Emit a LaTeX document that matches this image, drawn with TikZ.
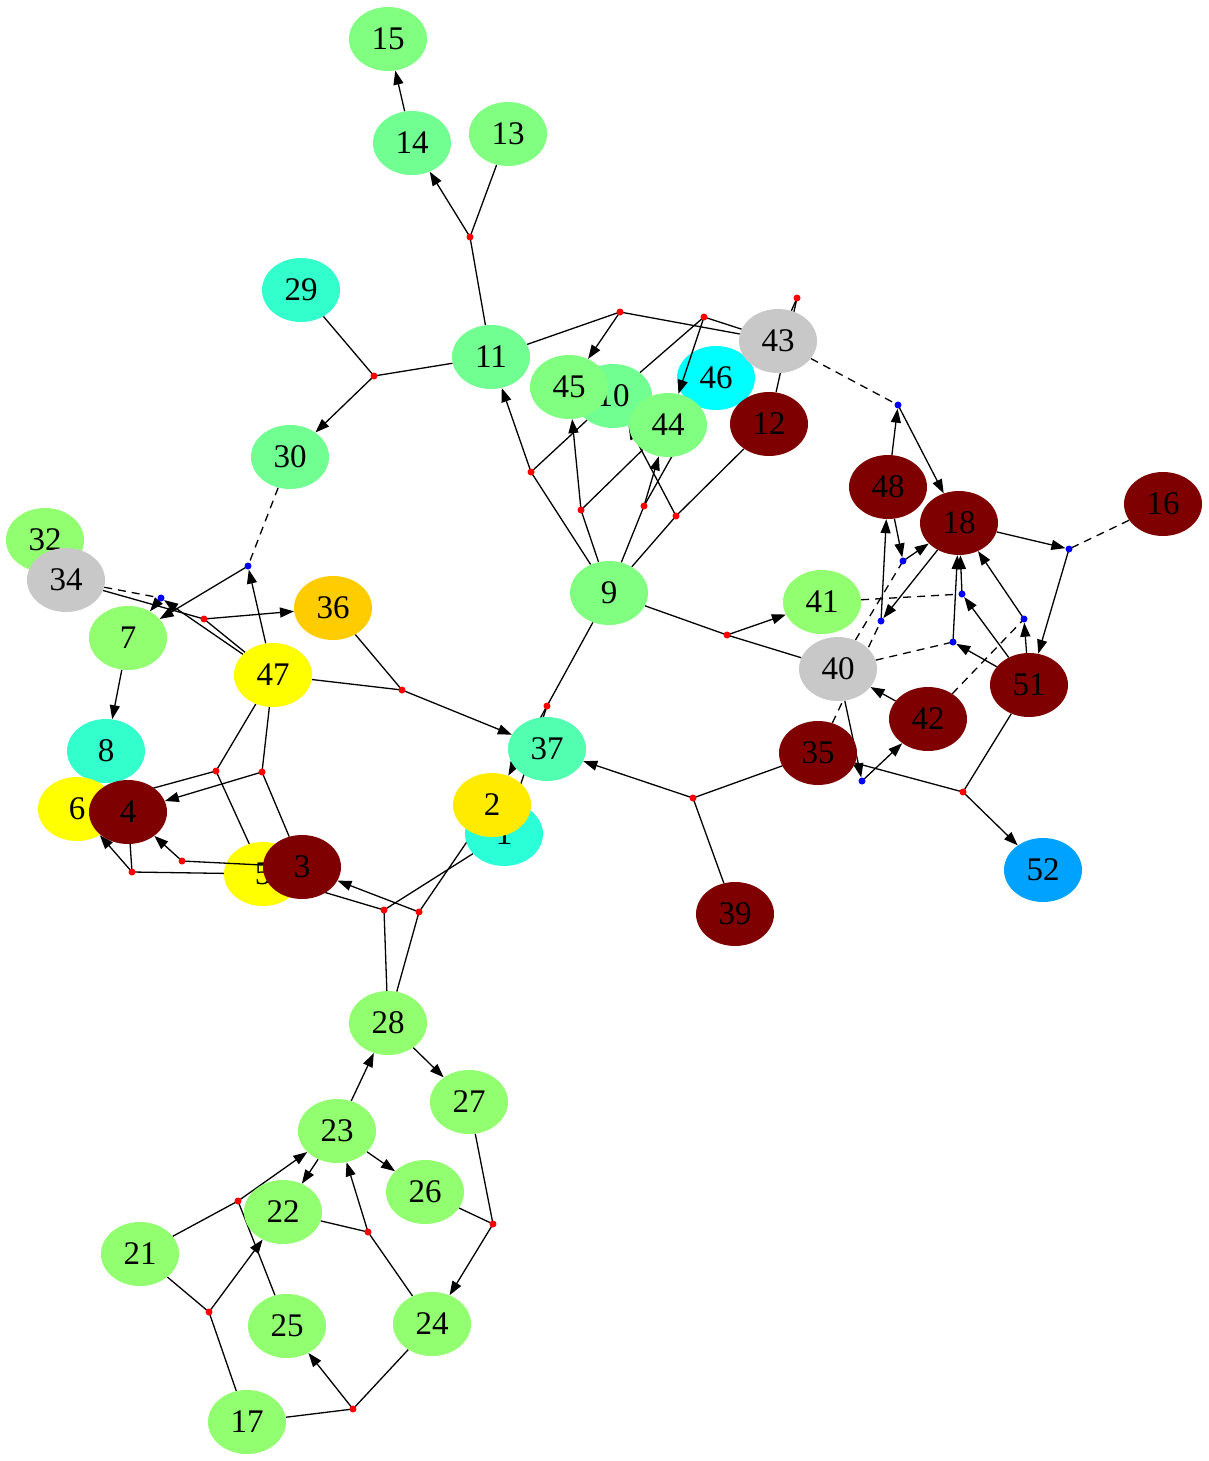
\documentclass[tikz,border=0pt]{standalone}
\usepackage{fontspec}
\setmainfont{Liberation Serif}
\usetikzlibrary{shapes.geometric,arrows.meta,backgrounds}
\definecolor{gA}{HTML}{80FF80}
\definecolor{gB}{HTML}{70FF90}
\definecolor{gC}{HTML}{92FF70}
\definecolor{cyg}{HTML}{33FFCC}
\definecolor{cyh}{HTML}{2AFFD8}
\definecolor{cthirty}{HTML}{52FFB0}
\definecolor{aq}{HTML}{00FFFF}
\definecolor{gry}{HTML}{C8C8C8}
\definecolor{drd}{HTML}{7F0000}
\definecolor{orn}{HTML}{FFCC00}
\definecolor{yel}{HTML}{FFFF00}
\definecolor{yelb}{HTML}{FFEB00}
\definecolor{blu}{HTML}{00A2FF}
\tikzset{
  vx/.style={ellipse, draw=none, minimum width=78pt, minimum height=64pt, inner sep=0pt, font=\fontsize{33}{33}\selectfont},
  rdot/.style={circle, fill=red, draw=none, inner sep=0pt, minimum size=7pt},
  bdot/.style={circle, fill=blue, draw=none, inner sep=0pt, minimum size=7pt},
  ln/.style={line width=1.3pt},
  ar/.style={line width=1.3pt, -{Triangle[length=14pt,width=10pt]}},
  md/.style={line width=1.3pt, dash pattern=on 8pt off 6pt},
}
\begin{document}
\begin{tikzpicture}[x=1pt,y=-1pt]
\useasboundingbox (0,0) rectangle (1209,1461);
% nodes lying under edges
\begin{scope}[on background layer]
\node[vx,fill=aq] (n46) at (716,378) {46};
\node[vx,fill=yel] (n5) at (263,874) {5};
\end{scope}
% main nodes
\node[vx,fill=gA] (n15) at (388,39) {15};
\node[vx,fill=gB] (n14) at (412,143) {14};
\node[vx,fill=gA] (n13) at (508,134) {13};
\node[vx,fill=cyg] (n29) at (301,290) {29};
\node[vx,fill=gB] (n11) at (491,357) {11};
\node[vx,fill=gB] (n30) at (290,457) {30};
\node[vx,fill=gB] (n10) at (613,396) {10};
\node[vx,fill=gA] (n45) at (569,387) {45};
\node[vx,fill=gA] (n44) at (668,425) {44};
\node[vx,fill=gry] (n43) at (778,341) {43};
\node[vx,fill=drd] (n12) at (769,424) {12};
\node[vx,fill=drd] (n48) at (888,487) {48};
\node[vx,fill=drd] (n18) at (959,523) {18};
\node[vx,fill=drd] (n16) at (1163,504) {16};
\node[vx,fill=gC] (n41) at (822,602) {41};
\node[vx,fill=gry] (n40) at (838,669) {40};
\node[vx,fill=drd] (n42) at (928,719) {42};
\node[vx,fill=drd] (n51) at (1029,685) {51};
\node[vx,fill=drd] (n35) at (818,753) {35};
\node[vx,fill=blu] (n52) at (1043,870) {52};
\node[vx,fill=drd] (n39) at (735,914) {39};
\node[vx,fill=gA] (n9) at (609,593) {9};
\node[vx,fill=cyh] (n1) at (504,834) {1};
\node[vx,fill=cthirty] (n37) at (547,749) {37};
\node[vx,fill=yelb] (n2) at (492,805) {2};
\node[vx,fill=gC] (n32) at (45,540) {32};
\node[vx,fill=gry] (n34) at (66,580) {34};
\node[vx,fill=gC] (n7) at (128,638) {7};
\node[vx,fill=orn] (n36) at (333,608) {36};
\node[vx,fill=yel] (n47) at (273,675) {47};
\node[vx,fill=cyg] (n8) at (106,751) {8};
\node[vx,fill=yel] (n6) at (77,809) {6};
\node[vx,fill=drd] (n4) at (128,812) {4};
\node[vx,fill=drd] (n3) at (302,867) {3};
\node[vx,fill=gC] (n28) at (388,1023) {28};
\node[vx,fill=gC] (n27) at (469,1102) {27};
\node[vx,fill=gC] (n23) at (337,1131) {23};
\node[vx,fill=gC] (n26) at (425,1192) {26};
\node[vx,fill=gC] (n22) at (283,1212) {22};
\node[vx,fill=gC] (n21) at (140,1254) {21};
\node[vx,fill=gC] (n25) at (287,1326) {25};
\node[vx,fill=gC] (n24) at (432,1324) {24};
\node[vx,fill=gC] (n17) at (247,1422) {17};
% junction dots
\node[rdot] (r1) at (470,237) {};
\node[rdot] (r2) at (374,376) {};
\node[rdot] (r3) at (620,312) {};
\node[rdot] (r4) at (704,317) {};
\node[rdot] (r5) at (797,298) {};
\node[rdot] (r6) at (531,472) {};
\node[rdot] (r7) at (581,510) {};
\node[rdot] (r8) at (644,506) {};
\node[rdot] (r9) at (676,516) {};
\node[rdot] (r10) at (547,706) {};
\node[rdot] (r11) at (402,690) {};
\node[rdot] (r12) at (204,619) {};
\node[rdot] (r13) at (216,771) {};
\node[rdot] (r14) at (262,772) {};
\node[rdot] (r15) at (182,861) {};
\node[rdot] (r16) at (132,872) {};
\node[rdot] (r17) at (963,792) {};
\node[rdot] (r18) at (727,635) {};
\node[rdot] (r19) at (693,798) {};
\node[rdot] (r20) at (384,910) {};
\node[rdot] (r21) at (419,912) {};
\node[rdot] (r22) at (238,1201) {};
\node[rdot] (r23) at (368,1232) {};
\node[rdot] (r24) at (493,1224) {};
\node[rdot] (r25) at (209,1312) {};
\node[rdot] (r26) at (353,1409) {};
\node[bdot] (b1) at (161,598) {};
\node[bdot] (b2) at (248,566) {};
\node[bdot] (b3) at (898,405) {};
\node[bdot] (b4) at (903,561) {};
\node[bdot] (b5) at (881,621) {};
\node[bdot] (b6) at (962,594) {};
\node[bdot] (b7) at (953,642) {};
\node[bdot] (b8) at (1024,619) {};
\node[bdot] (b9) at (1069,549) {};
\node[bdot] (b10) at (862,781) {};
% connectors
\begin{scope}[on background layer]
\draw[ar] (n14) -- (n15);
\draw[ln] (n11) -- (r1.center);
\draw[ln] (n13) -- (r1.center);
\draw[ar] (r1.center) -- (n14);
\draw[ln] (n29) -- (r2.center);
\draw[ln] (n11) -- (r2.center);
\draw[ar] (r2.center) -- (n30);
\draw[ln] (n11) -- (r3.center);
\draw[ln] (n43) -- (r3.center);
\draw[ar] (r3.center) -- (n45);
\draw[ln] (n43) -- (r4.center);
\draw[ln] (n10) -- (r4.center);
\draw[ar] (r4.center) -- (n44);
\draw[ln] (n43) -- (r5.center);
\draw[ln] (n12) -- (r5.center);
\draw[ln] (n9) -- (r6.center);
\draw[ln] (n10) -- (r6.center);
\draw[ar] (r6.center) -- (n11);
\draw[ln] (n9) -- (r7.center);
\draw[ln] (n44) -- (r7.center);
\draw[ar] (r7.center) -- (n45);
\draw[ln] (n9) -- (r8.center);
\draw[ln] (n46) -- (r8.center);
\draw[ar] (r8.center) -- (n44);
\draw[ln] (n9) -- (r9.center);
\draw[ln] (n12) -- (r9.center);
\draw[ar] (r9.center) -- (n10);
\draw[ln] (n9) -- (r10.center);
\draw[ln] (n1) -- (r10.center);
\draw[ar] (r10.center) -- (n2);
\draw[ln] (n9) -- (r18.center);
\draw[ln] (n40) -- (r18.center);
\draw[ar] (r18.center) -- (n41);
\draw[ln] (n36) -- (r11.center);
\draw[ln] (n47) -- (r11.center);
\draw[ar] (r11.center) -- (n37);
\draw[ln] (n35) -- (r19.center);
\draw[ln] (n39) -- (r19.center);
\draw[ar] (r19.center) -- (n37);
\draw[ln] (n35) -- (r17.center);
\draw[ln] (n51) -- (r17.center);
\draw[ar] (r17.center) -- (n52);
\draw[ln] (n34) -- (r12.center);
\draw[ln] (n47) -- (r12.center);
\draw[ar] (r12.center) -- (n36);
\draw[ar] (n47) -- (b1);
\draw[ar] (b1.center) -- (n7);
\draw[md] (n34) -- (b1.center);
\draw[ar] (n47) -- (b2);
\draw[ar] (b2.center) -- (n7);
\draw[md] (n30) -- (b2.center);
\draw[ar] (n7) -- (n8);
\draw[ln] (n47) -- (r13.center);
\draw[ln] (n5) -- (r13.center);
\draw[ar] (r13.center) -- (n6);
\draw[ln] (n47) -- (r14.center);
\draw[ln] (n3) -- (r14.center);
\draw[ar] (r14.center) -- (n4);
\draw[ln] (n3) -- (r15.center);
\draw[ar] (r15.center) -- (n4);
\draw[ln] (n4) -- (r16.center);
\draw[ln] (n5) -- (r16.center);
\draw[ar] (r16.center) -- (n6);
\draw[ln] (n28) -- (r20.center);
\draw[ln] (n1) -- (r20.center);
\draw[ar] (r20.center) -- (n5);
\draw[ln] (n28) -- (r21.center);
\draw[ln] (n2) -- (r21.center);
\draw[ar] (r21.center) -- (n3);
\draw[ar] (n23) -- (n28);
\draw[ar] (n28) -- (n27);
\draw[ar] (n23) -- (n22);
\draw[ar] (n23) -- (n26);
\draw[ln] (n21) -- (r22.center);
\draw[ln] (n25) -- (r22.center);
\draw[ar] (r22.center) -- (n23);
\draw[ln] (n22) -- (r23.center);
\draw[ln] (n24) -- (r23.center);
\draw[ar] (r23.center) -- (n23);
\draw[ln] (n26) -- (r24.center);
\draw[ln] (n27) -- (r24.center);
\draw[ar] (r24.center) -- (n24);
\draw[ln] (n21) -- (r25.center);
\draw[ln] (n17) -- (r25.center);
\draw[ar] (r25.center) -- (n22);
\draw[ln] (n17) -- (r26.center);
\draw[ln] (n24) -- (r26.center);
\draw[ar] (r26.center) -- (n25);
% right cluster
\draw[ar] (n48) -- (b3);
\draw[ar] (b3.center) -- (n18);
\draw[md] (n43) -- (b3.center);
\draw[ar] (n48) -- (b4);
\draw[ar] (b4.center) -- (n18);
\draw[md] (n40) -- (b4.center);
\draw[ar] (n18) -- (b5);
\draw[ar] (b5.center) -- (n48);
\draw[md] (n35) -- (b5.center);
\draw[ar] (n51) -- (b6);
\draw[ar] (b6.center) -- (n18);
\draw[md] (n41) -- (b6.center);
\draw[ar] (n51) -- (b7);
\draw[ar] (b7.center) -- (n18);
\draw[md] (n40) -- (b7.center);
\draw[ar] (n51) -- (b8);
\draw[ar] (b8.center) -- (n18);
\draw[md] (n42) -- (b8.center);
\draw[ar] (n18) -- (b9);
\draw[ar] (b9.center) -- (n51);
\draw[md] (n16) -- (b9.center);
\draw[ar] (n40) -- (b10);
\draw[ar] (b10.center) -- (n42);
\draw[ar] (n42) -- (n40);
\end{scope}
\end{tikzpicture}
\end{document}
